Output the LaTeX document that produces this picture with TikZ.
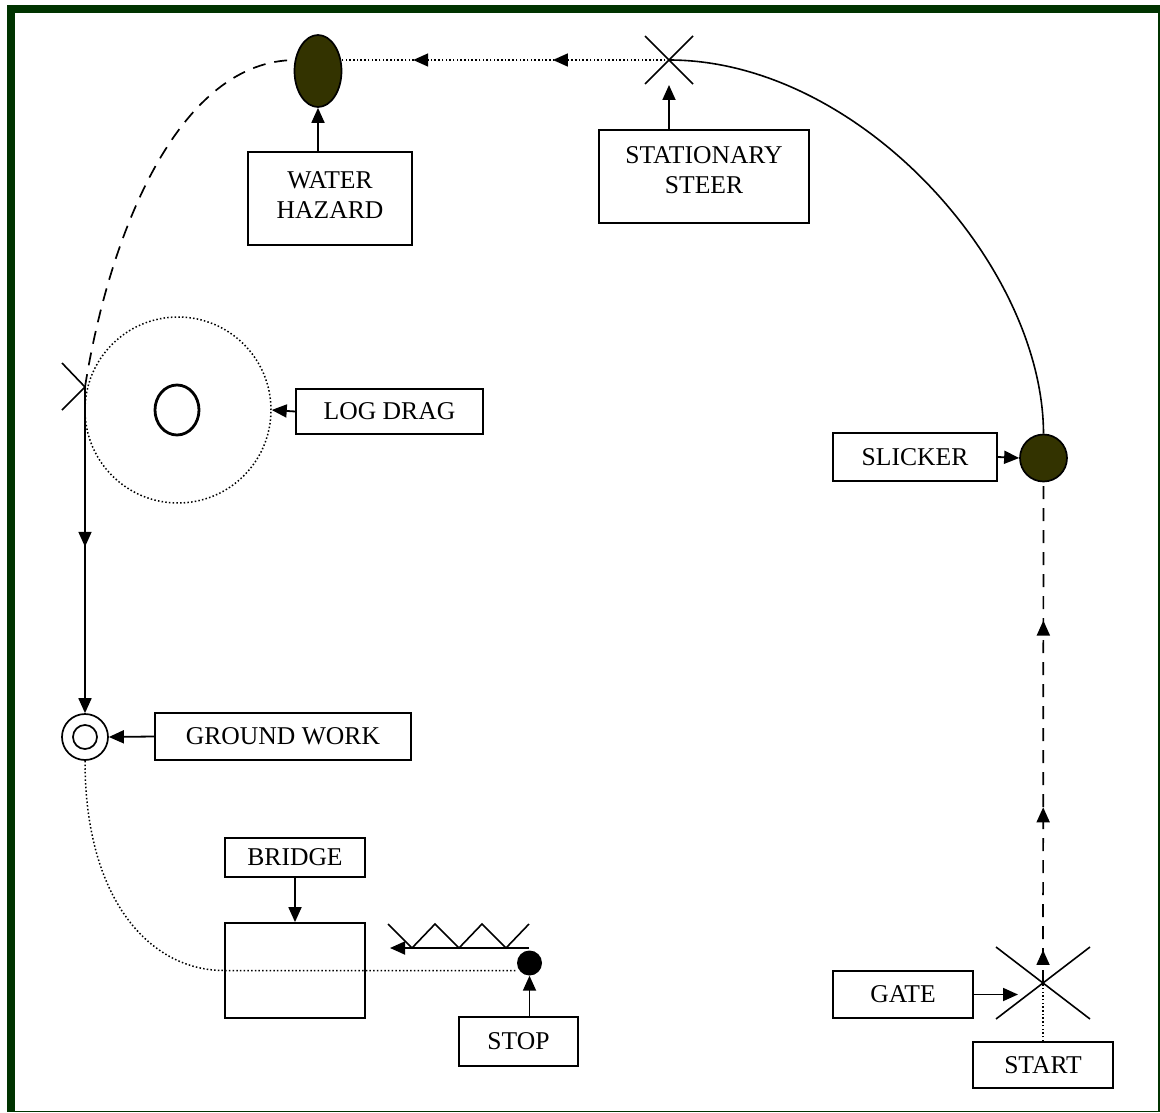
\documentclass[tikz,border=0pt]{standalone}
\usepackage{fontspec}
\setmainfont{Liberation Serif}
\usetikzlibrary{arrows.meta,shapes.geometric,decorations.markings}
\definecolor{framegreen}{RGB}{0,51,0}
\definecolor{hazardfill}{RGB}{51,51,0}
\tikzset{
  midarrow/.style={postaction={decorate,decoration={markings,
      mark=at position #1 with {\arrow[solid]{Triangle[length=15pt,width=13pt]}}}}},
}
\begin{document}
\begin{tikzpicture}[x=1pt,y=-1pt,
  txt/.style={font=\fontsize{25.6}{30}\selectfont, align=center},
  box/.style={draw, line width=1.8pt, inner sep=0pt, txt},
  arr/.style={line width=1.8pt, -{Triangle[length=15pt,width=13pt]}},
  xline/.style={line width=1.6pt},
  dotline/.style={line width=1.5pt, dash pattern=on 1.5pt off 2.2pt},
  dashline/.style={line width=1.7pt, dash pattern=on 13pt off 9pt},
  thinline/.style={line width=1.6pt}]
\useasboundingbox (0,0) rectangle (1160,1113);
% frame
\fill[framegreen] (7,5) rectangle (1159.5,1112);
\fill[white] (15,13) rectangle (1158,1110.5);

% shapes
\node[ellipse, draw, line width=1.7pt, fill=hazardfill, minimum width=47pt, minimum height=72pt, inner sep=0pt] (wh) at (318,71) {};
\node[circle, draw, dotline, minimum size=186pt, inner sep=0pt] (logring) at (178,410) {};
\node[ellipse, draw, line width=2.8pt, minimum width=44pt, minimum height=50pt, inner sep=0pt] (log) at (177,410) {};
\node[circle, draw, line width=1.7pt, minimum size=46pt, inner sep=0pt] (gw) at (85,737) {};
\node[circle, draw, line width=1.7pt, minimum size=24pt, inner sep=0pt] (gwin) at (85,737) {};
\node[circle, draw, line width=1.7pt, fill=hazardfill, minimum size=47pt, inner sep=0pt] (slick) at (1043.5,458) {};
\node[circle, fill=black, minimum size=25pt, inner sep=0pt] (stop) at (529.5,963) {};
\node[draw, line width=1.8pt, minimum width=140pt, minimum height=95pt, inner sep=0pt] (bridge) at (295,970.5) {};

% boxes
\node[box, minimum width=164pt, minimum height=93pt,
  label={[txt, yshift=3pt]center:WATER\\HAZARD}] (whbox) at (330,198.5) {};
\node[box, minimum width=210pt, minimum height=93pt,
  label={[txt, yshift=6pt]center:STATIONARY\\STEER}] (ssbox) at (704,176.5) {};
\node[box, minimum width=187pt, minimum height=45pt] (logbox) at (389.5,411.5) {LOG DRAG};
\node[box, minimum width=164pt, minimum height=48pt] (slickbox) at (915,457) {SLICKER};
\node[box, minimum width=256pt, minimum height=47pt] (gwbox) at (283,736.5) {GROUND WORK};
\node[box, minimum width=140pt, minimum height=39pt] (bridgelbl) at (295,857.5) {BRIDGE};
\node[box, minimum width=119pt, minimum height=49pt] (stopbox) at (518.5,1041.5) {STOP};
\node[box, minimum width=140pt, minimum height=47pt] (gatebox) at (903,994.5) {GATE};
\node[box, minimum width=140pt, minimum height=46pt] (startbox) at (1043,1065) {START};

% coordinates
\coordinate (ss) at (669,60);
\coordinate (ssbot) at (669,85);
\coordinate (whl) at (296,60);
\coordinate (whr) at (341,60);
\coordinate (lx) at (85,387);
\coordinate (gate) at (1043,983);
\coordinate (gatein) at (1018,994.5);
\coordinate (zzs) at (529,948);
\coordinate (zze) at (390,948);

% crosses
\draw[xline] (ss) ++(-24,-24) -- ++(48,48);
\draw[xline] (ss) ++(-24,24) -- ++(48,-48);
\draw[xline] (gate) ++(-47,-36) -- ++(94,72);
\draw[xline] (gate) ++(-47,36) -- ++(94,-72);
\draw[xline] (lx) ++(-23,-24) -- (lx) -- ++(-23,23);

% connectors
\draw[arr] (whbox.north -| wh) -- (wh.south);
\draw[arr] (ssbox.north -| ss) -- (ssbot);
\draw[dotline, midarrow=0.354, midarrow=0.78] (ss) -- (whr);
\draw[thinline] (ss) .. controls (859,60) and (1043,265) .. (slick.north);
\draw[dashline] (lx) .. controls (110,230) and (180,60) .. (whl);
\draw[arr, midarrow=0.49] (lx) -- (gw.north);
\draw[arr] (logbox.west) -- (logring.east);
\draw[arr] (slickbox.east) -- (slick.west);
\draw[arr] (gwbox.west) -- (gw.east);
\draw[dotline] (gw.south) .. controls (85,900) and (150,970.5) .. (bridge.west) -- (bridge.west -| stop.west);
\draw[arr] (bridgelbl.south) -- (bridge.north);
\draw[arr] (stopbox.north -| stop) -- (stop.south);
\draw[arr] (zzs) -- (zze);
\draw[thinline] (388,924) -- (412,948) -- (435,924) -- (459,948) -- (482,924) -- (506,948) -- (529,924);
\draw[arr] (gatebox.east) -- (gatein);
\draw[dotline] (startbox.north) -- (gate);
\draw[dashline, midarrow=0.066, midarrow=0.351, midarrow=0.724] (gate) -- (slick.south);
\end{tikzpicture}
\end{document}
